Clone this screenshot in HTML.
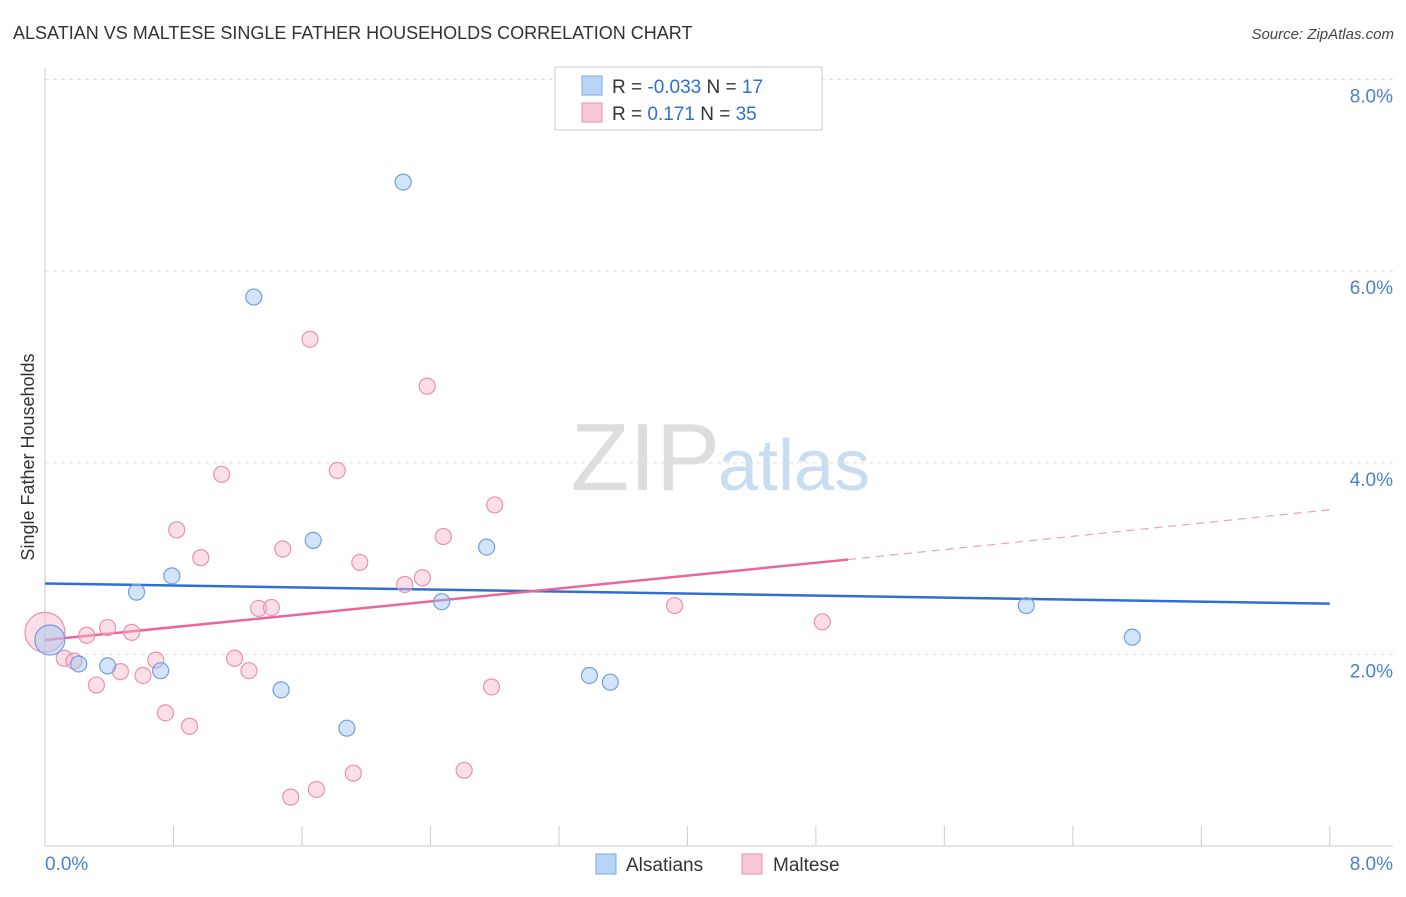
<!DOCTYPE html>
<html><head><meta charset="utf-8"><style>
body{margin:0;background:#fff;font-family:"Liberation Sans",sans-serif}
svg text{font-family:"Liberation Sans",sans-serif}
</style></head><body>
<svg id="chart" width="1406" height="892" viewBox="0 0 1406 892" xmlns="http://www.w3.org/2000/svg">
<text x="13" y="39" font-size="18" fill="#333">ALSATIAN VS MALTESE SINGLE FATHER HOUSEHOLDS CORRELATION CHART</text>
<text x="1394" y="39" font-size="15" fill="#444" text-anchor="end" font-style="italic">Source: ZipAtlas.com</text>
<text x="720" y="490" font-size="96" text-anchor="end" fill="#ddd" font-family="Liberation Serif">ZIP</text>
<text x="718" y="490" font-size="72" fill="#c8dcf2">atlas</text>
<g id="grid"></g>
<g id="axes"></g>
<g id="lines"></g>
<g id="points"></g>
<text transform="translate(34,457) rotate(-90)" font-size="18" fill="#333" text-anchor="middle">Single Father Households</text>
<g>
<rect x="555" y="67" width="267" height="63" fill="#fff" stroke="#ccc"/>
<rect x="582" y="76" width="20" height="19" fill="#b8d4f6" stroke="#7aa8e0"/>
<rect x="582" y="103" width="20" height="19" fill="#f9c8d8" stroke="#e892b0"/>
<text x="612" y="93" font-size="19" fill="#333">R = <tspan fill="#2f6fd0">-0.033</tspan>   N =  <tspan fill="#2f6fd0">17</tspan></text>
<text x="612" y="120" font-size="19" fill="#333">R =    <tspan fill="#2f6fd0">0.171</tspan>   N = <tspan fill="#2f6fd0">35</tspan></text>
</g>
<g>
<rect x="596" y="854" width="20" height="20" fill="#b8d4f6" stroke="#7aa8e0"/>
<text x="626" y="871" font-size="19" fill="#333">Alsatians</text>
<rect x="742" y="854" width="20" height="20" fill="#f9c8d8" stroke="#e892b0"/>
<text x="773" y="871" font-size="19" fill="#333">Maltese</text>
</g>
</svg>
<script>
const alsX=[0.03,0.21,0.39,0.57,0.72,0.79,1.30,1.47,1.67,1.88,2.23,2.47,2.75,3.39,3.52,6.11,6.77];
const alsY=[2.15,1.90,1.88,2.65,1.83,2.82,5.73,1.63,3.19,1.23,6.93,2.55,3.12,1.78,1.71,2.51,2.18];
const malX=[0.0,0.12,0.18,0.26,0.32,0.39,0.47,0.54,0.61,0.69,0.75,0.82,0.90,0.97,1.10,1.18,1.27,1.33,1.41,1.48,1.53,1.65,1.69,1.82,1.92,1.96,2.24,2.35,2.38,2.48,2.61,2.78,2.80,3.92,4.84];
const malY=[2.23,1.96,1.93,2.20,1.68,2.28,1.82,2.23,1.78,1.94,1.39,3.30,1.25,3.01,3.88,1.96,1.83,2.48,2.49,3.10,0.51,5.29,0.59,3.92,0.76,2.96,2.73,2.80,4.80,3.23,0.79,1.66,3.56,2.51,2.34];
const alsTrendX=[0,8];const alsTrendY=[2.74,2.53];
const malTrendX=[0,5.0,8];const malTrendY=[2.15,2.99,3.51];
const yTicks=[2,4,6,8];const yTickLabels=["2.0%","4.0%","6.0%","8.0%"];
const NS="http://www.w3.org/2000/svg";
const xs=v=>45+v*160.6, ys=v=>846-v*95.8;
function mk(t,a,p){const e=document.createElementNS(NS,t);for(const k in a)e.setAttribute(k,a[k]);p.appendChild(e);return e;}
const grid=document.getElementById('grid'),axes=document.getElementById('axes'),lines=document.getElementById('lines'),pts=document.getElementById('points');
yTicks.forEach((t,i)=>{
 const l=mk('line',{x1:45,x2:1393,y1:ys(t),y2:ys(t),stroke:'#ddd','stroke-dasharray':'4,4'},grid);
 
 
 const tx=mk('text',{x:1393,y:ys(t)+23,'font-size':19,fill:'#4a80d0','text-anchor':'end'},axes);
 tx.textContent=yTickLabels[i];
 
 
});
mk('line',{x1:45,x2:45,y1:68,y2:846,stroke:'#ccc'},axes);
mk('line',{x1:45,x2:1393,y1:846,y2:846,stroke:'#ccc'},axes);
for(let i=0;i<=10;i++){const t=mk('line',{x1:xs(i*0.8),x2:xs(i*0.8),y1:826,y2:846,stroke:'#ccc'},axes);}
let a=mk('text',{x:45,y:870,'font-size':19,fill:'#4a80d0'},axes);a.textContent='0.0%';

a=mk('text',{x:1393,y:870,'font-size':19,fill:'#4a80d0','text-anchor':'end'},axes);a.textContent='8.0%';

function dots(X,Y,fill,stroke,name,bigR){X.forEach((x,i)=>{const c=mk('circle',{cx:xs(x),cy:ys(Y[i]),r:i===0?bigR:8,fill:fill,stroke:stroke,'stroke-width':1.2},pts);
 
 });}
dots(malX,malY,'rgba(246,182,204,0.45)','#e892b0','maltese-point',20);
dots(alsX,alsY,'rgba(160,196,240,0.45)','#6f9fdc','alsatian-point',15);
let bl=mk('line',{x1:xs(alsTrendX[0]),y1:ys(alsTrendY[0]),x2:xs(alsTrendX[1]),y2:ys(alsTrendY[1]),stroke:'#2f6fd0','stroke-width':2.5},lines);

let pl=mk('line',{x1:xs(malTrendX[0]),y1:ys(malTrendY[0]),x2:xs(malTrendX[1]),y2:ys(malTrendY[1]),stroke:'#e8679a','stroke-width':2.5},lines);

let pd=mk('line',{x1:xs(malTrendX[1]),y1:ys(malTrendY[1]),x2:xs(malTrendX[2]),y2:ys(malTrendY[2]),stroke:'#e8a0bb','stroke-width':1.2,'stroke-dasharray':'8,6'},lines);

</script>
</body></html>
